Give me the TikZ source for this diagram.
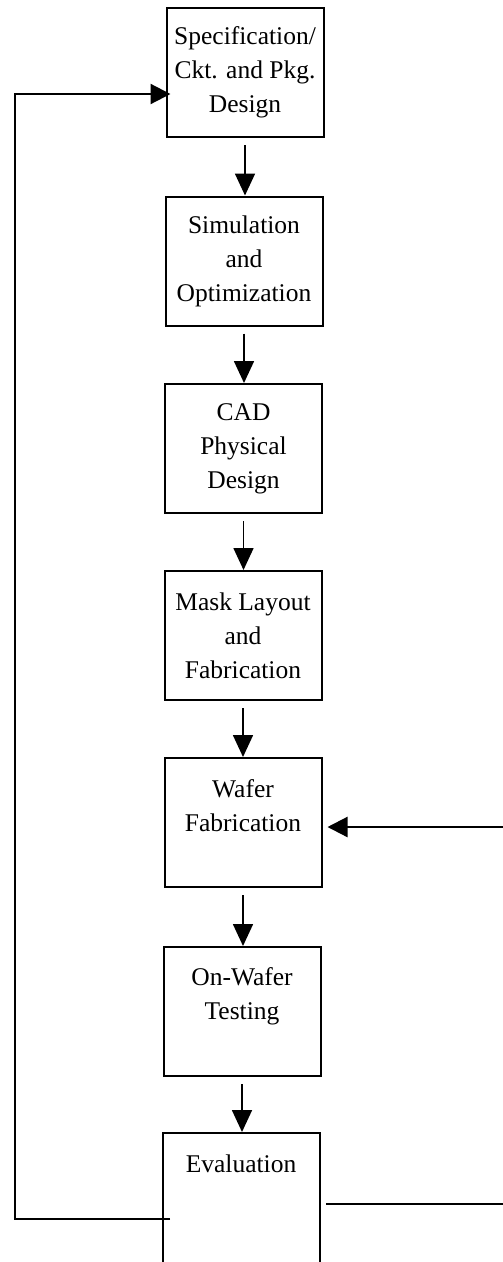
\documentclass[tikz,border=0pt]{standalone}
\usepackage{fontspec}
\setmainfont{Liberation Serif}
\usetikzlibrary{arrows.meta,calc}
\begin{document}
\begin{tikzpicture}[x=1pt,y=-1pt,
  stage/.style={draw,line width=2pt,minimum width=157pt,minimum height=129pt,inner sep=0pt,align=center,font=\fontsize{25.5}{34}\selectfont},
  lbl/.style={inner sep=0pt,align=center,font=\fontsize{25.5}{34}\selectfont},
  flow/.style={line width=1.7pt,-{Triangle[width=20pt,length=22pt]}},
  loopline/.style={line width=2.2pt},
  loophead/.style={-{Triangle[width=20pt,length=20pt]}}]
\useasboundingbox (0,0) rectangle (503,1262);
\node[stage] (b1) at (245,72.5) {Specification/\\Ckt. and Pkg.\\Design};
\node[stage] (b2) at (244,261) {Simulation\\and\\Optimization};
\node[stage] (b3) at (243.5,448.5) {CAD\\Physical\\Design};
\node[stage] (b4) at (243,635.5) {Mask Layout\\and\\Fabrication};
\node[stage] (b5) at (243,822.5) {};
\node[lbl,anchor=north] (t5) at (243,779) {Wafer\\Fabrication};
\node[stage] (b6) at (242,1011.5) {};
\node[lbl,anchor=north] (t6) at (242,967) {On-Wafer\\Testing};
\node[stage,minimum height=136pt] (b7) at (241.5,1201) {};
\node[lbl,anchor=north] (t7) at (241,1155) {Evaluation};
\foreach \a/\b in {b1/b2,b2/b3,b3/b4,b4/b5,b5/b6,b6/b7}
  \draw[flow] ([yshift=-7pt]\a.south) -- (\a.south |- \b.north);
\coordinate (fbs) at (170,1219);
\coordinate (fbc) at (15,1219);
\coordinate (fbe) at ($(b1.west)+(5,21.5)$);
\draw[loopline,loophead] (fbs) -- (fbc) |- (fbe);
\coordinate (inR) at (503,827);
\draw[loopline,loophead] (inR) -- ([xshift=5pt]inR -| b5.east);
\coordinate (outR) at (503,1204);
\draw[loopline] ([xshift=5pt]outR -| b7.east) -- (outR);
\end{tikzpicture}
\end{document}
